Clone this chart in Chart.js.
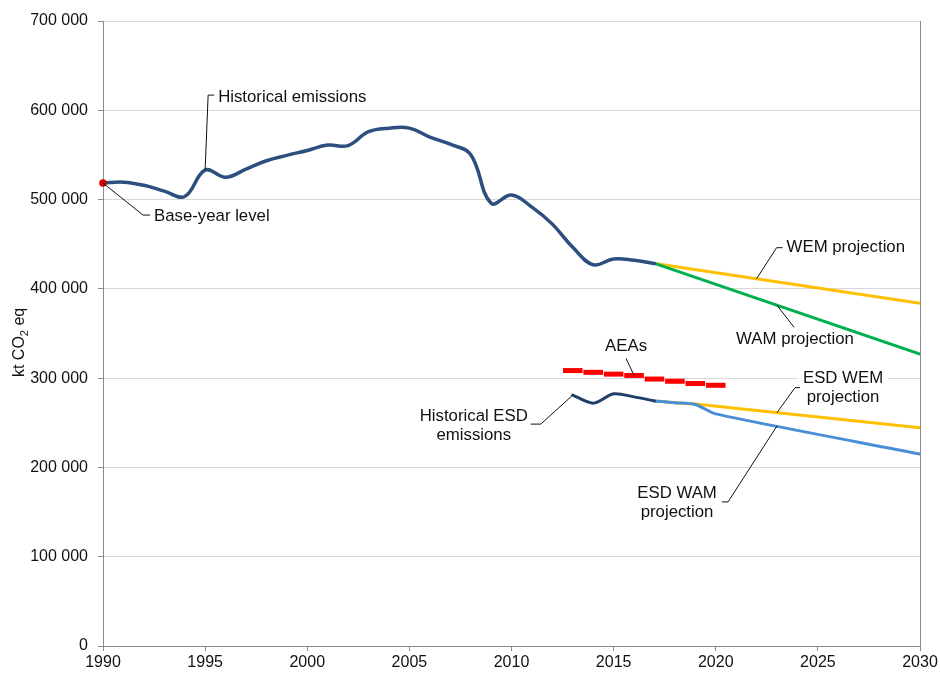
<!DOCTYPE html>
<html>
<head>
<meta charset="utf-8">
<script src="https://cdn.jsdelivr.net/npm/chart.js@4.4.1/dist/chart.umd.min.js"></script>
<style>
  html, body { margin: 0; padding: 0; background: #fff; }
  #wrap { width: 940px; height: 675px; }
</style>
</head>
<body>
<div id="wrap"><canvas id="chart"></canvas></div>
<script>
// Total emissions, kt CO2 eq
const histYears = [1990, 1991, 1992, 1993, 1994, 1995, 1996, 1997, 1998, 1999, 2000, 2001, 2002, 2003,
    2004, 2005, 2006, 2007, 2008, 2009, 2010, 2011, 2012, 2013, 2014, 2015, 2016, 2017];
const histValues = [518500, 519500, 516000, 509500, 503500, 533000, 525000, 534000, 543500, 549500,
    555000, 561000, 560500, 576000, 580000, 580000, 570000, 562000, 550500, 496000, 505000, 491500,
    472500, 446500, 427000, 433500, 432000, 428500];

const wemYears = [2017, 2030];
const wemValues = [428500, 384000];
const wamYears = [2017, 2030];
const wamValues = [428500, 327000];

// Effort sharing (ESD) sectors
const esdHistYears = [2013, 2014, 2015, 2016, 2017];
const esdHistValues = [281000, 272000, 282500, 279000, 274500];
const esdWemYears = [2017, 2018, 2019, 2030];
const esdWemValues = [274500, 272500, 271000, 244500];
const esdWamYears = [2017, 2018, 2019, 2020, 2030];
const esdWamValues = [274500, 272500, 270500, 260000, 215000];

// Annual emission allocations
const aeaYears = [2013, 2014, 2015, 2016, 2017, 2018, 2019, 2020];
const aeaValues = [308500, 306500, 304500, 303000, 299000, 296500, 294000, 292000];

const yTicks = [0, 100000, 200000, 300000, 400000, 500000, 600000, 700000];
const xTicks = [1990, 1995, 2000, 2005, 2010, 2015, 2020, 2025, 2030];

const FONT = '"Liberation Sans", Arial, sans-serif';
const LABEL_FONT = '16.8px ' + FONT;
const pts = (xs, ys) => xs.map((x, i) => ({ x, y: ys[i] }));

// value on a straight segment of a series at a given year
function along(xs, ys, x) {
    for (let i = 1; i < xs.length; i++) {
        if (x <= xs[i]) {
            const t = (x - xs[i - 1]) / (xs[i] - xs[i - 1]);
            return ys[i - 1] + t * (ys[i] - ys[i - 1]);
        }
    }
    return ys[ys.length - 1];
}

// callouts: anchor in data units, leader bends and text as pixel offsets from it
const callouts = [
    { lines: ['Historical emissions'], at: [1995, histValues[5]],
      path: [[3, -75], [9, -75]], text: [13, -73], align: 'left' },
    { lines: ['Base-year level'], at: [1990, histValues[0]],
      path: [[40, 32], [47, 32]], text: [51, 33], align: 'left' },
    { lines: ['WEM projection'], at: [2022, along(wemYears, wemValues, 2022)],
      path: [[20, -31], [26, -31]], text: [30, -31], align: 'left' },
    { lines: ['WAM projection'], at: [2023, along(wamYears, wamValues, 2023)],
      path: [[17, 22]], text: [18, 34], align: 'center' },
    { lines: ['AEAs'], at: [2016, aeaValues[3]],
      path: [[-8, -17]], text: [-8, -29], align: 'center' },
    { lines: ['Historical ESD', 'emissions'], at: [2013, esdHistValues[0]],
      path: [[-32, 29], [-42, 29]], text: [-99, 21], align: 'center' },
    { lines: ['ESD WEM', 'projection'], at: [2023, along(esdWemYears, esdWemValues, 2023)],
      path: [[18, -25], [23, -25]], text: [66, -34], align: 'center', box: true },
    { lines: ['ESD WAM', 'projection'], at: [2023, along(esdWamYears, esdWamValues, 2023)],
      path: [[-49, 76], [-55, 76]], text: [-100, 67], align: 'center' }
];

const calloutPlugin = {
    id: 'callouts',
    beforeDatasetsDraw(chart) {
        const { ctx, scales: { x, y } } = chart;
        ctx.save();
        ctx.font = LABEL_FONT;
        ctx.fillStyle = '#fff';
        callouts.filter(c => c.box).forEach(c => {
            const px = x.getPixelForValue(c.at[0]) + c.text[0];
            const py = y.getPixelForValue(c.at[1]) + c.text[1];
            const w = Math.max(...c.lines.map(l => ctx.measureText(l).width)) + 10;
            ctx.fillRect(px - w / 2, py - 11, w, c.lines.length * 19 + 4);
        });
        ctx.restore();
    },
    afterDatasetsDraw(chart) {
        const { ctx, chartArea, scales: { x, y } } = chart;
        ctx.save();
        // right frame of the plot area
        ctx.strokeStyle = '#8c8c8c';
        ctx.lineWidth = 1;
        ctx.beginPath();
        ctx.moveTo(Math.round(chartArea.right) + 0.5, chartArea.top);
        ctx.lineTo(Math.round(chartArea.right) + 0.5, chartArea.bottom);
        ctx.stroke();

        ctx.font = LABEL_FONT;
        ctx.fillStyle = '#111';
        ctx.strokeStyle = '#111';
        ctx.textBaseline = 'middle';
        callouts.forEach(c => {
            const ax = x.getPixelForValue(c.at[0]);
            const ay = y.getPixelForValue(c.at[1]);
            ctx.beginPath();
            ctx.moveTo(ax, ay);
            c.path.forEach(p => ctx.lineTo(ax + p[0], ay + p[1]));
            ctx.stroke();
            ctx.textAlign = c.align;
            c.lines.forEach((l, i) => ctx.fillText(l, ax + c.text[0], ay + c.text[1] + i * 19));
        });

        // y axis title with subscript
        ctx.translate(20, y.getPixelForValue(340000));
        ctx.rotate(-Math.PI / 2);
        ctx.textAlign = 'left';
        const a = 'kt CO', b = '2', c = ' eq';
        ctx.font = '16px ' + FONT;
        const wa = ctx.measureText(a).width, wc = ctx.measureText(c).width;
        ctx.font = '11px ' + FONT;
        const wb = ctx.measureText(b).width;
        const sx = -(wa + wb + wc) / 2;
        ctx.font = '16px ' + FONT;
        ctx.fillText(a, sx, 0);
        ctx.font = '11px ' + FONT;
        ctx.fillText(b, sx + wa, 5);
        ctx.font = '16px ' + FONT;
        ctx.fillText(c, sx + wa + wb, 0);
        ctx.restore();
    }
};

const lineDs = (label, xs, ys, color, width, extra) => Object.assign({
    type: 'line', label, data: pts(xs, ys), borderColor: color, borderWidth: width,
    pointRadius: 0, tension: 0, fill: false, borderCapStyle: 'round', borderJoinStyle: 'round'
}, extra || {});

new Chart(document.getElementById('chart'), {
    type: 'line',
    data: {
        datasets: [
            lineDs('Historical emissions', histYears, histValues, '#2C4F7F', 3.5, {
                tension: 0.4, order: 1, clip: false,
                pointRadius: histYears.map((_, i) => i === 0 ? 3.8 : 0),
                pointBackgroundColor: '#D00000', pointBorderColor: '#D00000', pointBorderWidth: 0
            }),
            lineDs('WEM projection', wemYears, wemValues, '#FFC000', 3, { order: 3 }),
            lineDs('WAM projection', wamYears, wamValues, '#00B050', 3, { order: 2 }),
            lineDs('ESD WEM projection', esdWemYears, esdWemValues, '#FFC000', 3, { order: 6 }),
            lineDs('ESD WAM projection', esdWamYears, esdWamValues, '#4A8ED8', 3, { order: 5, tension: 0.25 }),
            lineDs('Historical ESD emissions', esdHistYears, esdHistValues, '#1F3F6A', 3, { order: 4, tension: 0.3 }),
            {
                type: 'scatter', label: 'AEAs', data: pts(aeaYears, aeaValues), order: 0,
                showLine: false, pointStyle: 'line', pointRadius: 9.8, pointHoverRadius: 9.8,
                borderColor: '#FF0000', pointBorderWidth: 5, backgroundColor: '#FF0000'
            }
        ]
    },
    options: {
        responsive: true,
        maintainAspectRatio: false,
        animation: false,
        events: [],
        layout: { padding: { top: 21, right: 20, left: 0, bottom: 0 } },
        plugins: { legend: { display: false }, tooltip: { enabled: false } },
        scales: {
            x: {
                type: 'linear', min: 1990, max: 2030,
                afterBuildTicks: s => { s.ticks = xTicks.map(v => ({ value: v })); },
                afterFit: s => { s.height = 29; },
                ticks: { color: '#111', font: { family: FONT, size: 16 }, padding: 2, maxRotation: 0,
                         callback: v => String(v) },
                grid: { drawOnChartArea: false, drawTicks: true, tickLength: 5, color: '#8c8c8c' },
                border: { color: '#8c8c8c', width: 1 }
            },
            y: {
                min: 0, max: 700000,
                afterBuildTicks: s => { s.ticks = yTicks.map(v => ({ value: v })); },
                afterFit: s => { s.width = 103; },
                ticks: { color: '#111', font: { family: FONT, size: 16 }, padding: 10,
                         callback: v => v === 0 ? '0' : String(v).replace(/\B(?=(\d{3})+(?!\d))/g, ' ') },
                grid: { color: '#D9D9D9', lineWidth: 1, tickLength: 5, tickColor: '#8c8c8c' },
                border: { color: '#8c8c8c', width: 1 }
            }
        }
    },
    plugins: [calloutPlugin]
});
</script>
</body>
</html>
